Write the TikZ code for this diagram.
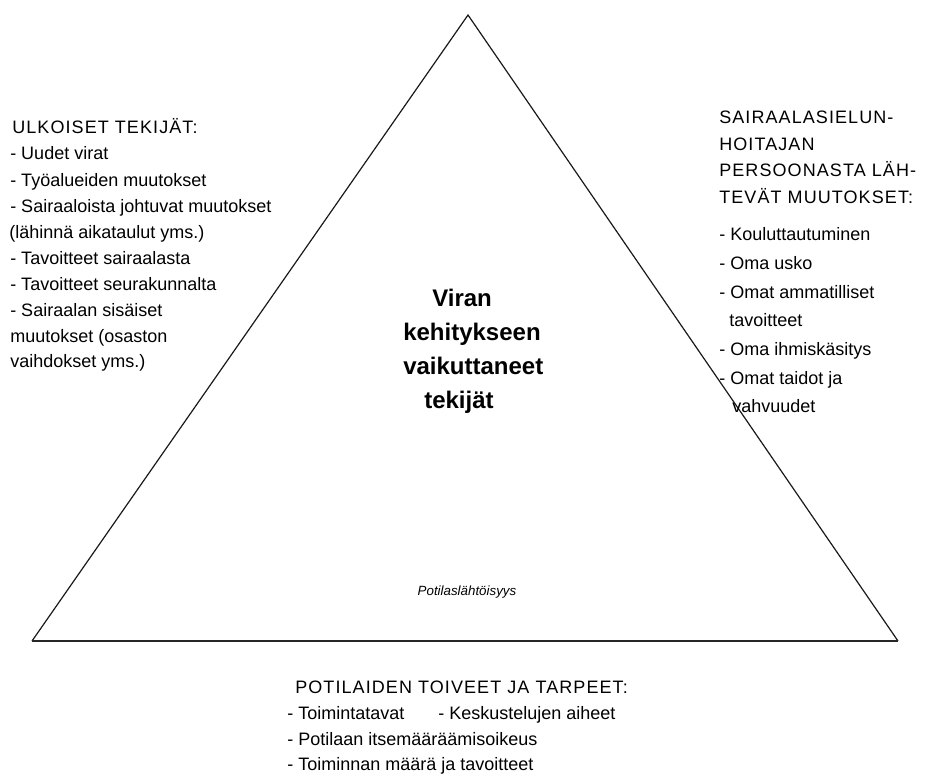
\documentclass[tikz,border=0pt]{standalone}
\usepackage{fontspec}
\setmainfont{Liberation Sans}
\newfontfamily\capsfont[LetterSpace=6]{Liberation Sans}
\begin{document}
\begin{tikzpicture}[x=0.75pt,y=-0.75pt,
  txt/.style={anchor=base west, inner sep=0pt, font=\fontsize{13.5}{16}\selectfont},
  captxt/.style={anchor=base west, inner sep=0pt, font=\capsfont\fontsize{13.5}{16}\selectfont},
  bigtxt/.style={anchor=base west, inner sep=0pt, font=\bfseries\fontsize{18}{20}\selectfont},
  smalltxt/.style={anchor=base, inner sep=0pt, font=\itshape\fontsize{10}{12}\selectfont},
  edge/.style={line width=0.9pt, line join=miter, draw=black!90},
  baseedge/.style={line width=1.4pt, draw=black!85}]
\useasboundingbox (0,0) rectangle (927,783);
% triangle
\coordinate (apex) at (468,15);
\coordinate (bl) at (32,641);
\coordinate (br) at (898,641);
\draw[edge] (bl) -- (apex) -- (br);
\draw[baseedge] (bl) -- (br);
% left block
\node[captxt] (l0) at (12,133) {ULKOISET TEKIJÄT:};
\node[txt] (l1) at (10,159) {- Uudet virat};
\node[txt] (l2) at (10,186) {- Työalueiden muutokset};
\node[txt] (l3) at (10,212) {- Sairaaloista johtuvat muutokset};
\node[txt] (l4) at (9,238) {(lähinnä aikataulut yms.)};
\node[txt] (l5) at (10,264) {- Tavoitteet sairaalasta};
\node[txt] (l6) at (10,290) {- Tavoitteet seurakunnalta};
\node[txt] (l7) at (10,316) {- Sairaalan sisäiset};
\node[txt] (l8) at (10,342) {muutokset (osaston};
\node[txt] (l9) at (10,367) {vaihdokset yms.)};
% right block
\node[captxt] (r0) at (719,123) {SAIRAALASIELUN-};
\node[captxt] (r1) at (719,150) {HOITAJAN};
\node[captxt] (r2) at (719,176) {PERSOONASTA LÄH-};
\node[captxt] (r3) at (719,203) {TEVÄT MUUTOKSET:};
\node[txt] (r4) at (719,240) {- Kouluttautuminen};
\node[txt] (r5) at (719,269) {- Oma usko};
\node[txt] (r6) at (719,298) {- Omat ammatilliset};
\node[txt] (r7) at (729,326) {tavoitteet};
\node[txt] (r8) at (719,355) {- Oma ihmiskäsitys};
\node[txt] (r9) at (719,384) {- Omat taidot ja};
\node[txt] (r10) at (732,412) {vahvuudet};
% centre
\node[bigtxt] (c1) at (432,306) {Viran};
\node[bigtxt] (c2) at (403,340) {kehitykseen};
\node[bigtxt] (c3) at (403,374) {vaikuttaneet};
\node[bigtxt] (c4) at (424,408) {tekijät};
\node[smalltxt] (pl) at (467,595) {Potilaslähtöisyys};
% bottom block
\node[captxt] (b0) at (295,693) {POTILAIDEN TOIVEET JA TARPEET:};
\node[txt] (b1) at (287,719) {- Toimintatavat};
\node[txt] (b2) at (438,719) {- Keskustelujen aiheet};
\node[txt] (b3) at (287,745) {- Potilaan itsemääräämisoikeus};
\node[txt] (b4) at (287,770) {- Toiminnan määrä ja tavoitteet};
\end{tikzpicture}
\end{document}
